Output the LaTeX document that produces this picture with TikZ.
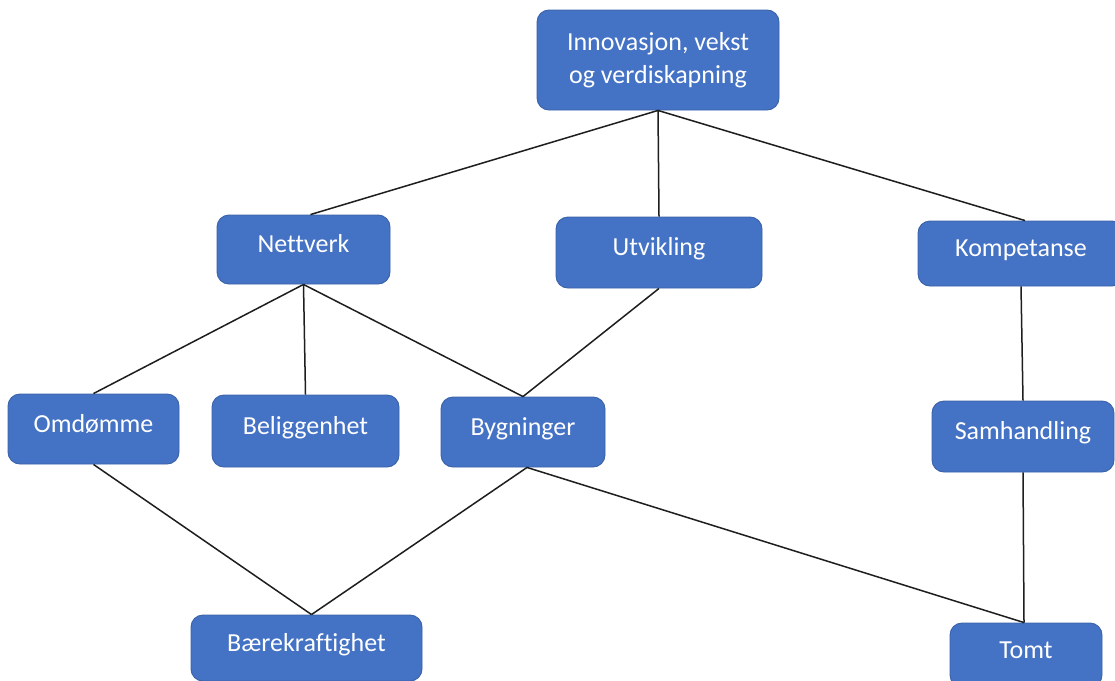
\documentclass[tikz,border=0pt]{standalone}
\usepackage{fontspec}
\setmainfont[Ligatures=NoCommon]{Carlito}
\usepackage{tikz}
\usetikzlibrary{positioning}
\definecolor{BoxBlue}{HTML}{4472C4}
\definecolor{BoxEdge}{HTML}{3A62A8}
\definecolor{TieInk}{HTML}{1E1E1E}
\tikzset{
  topicbox/.style={draw=BoxEdge,fill=BoxBlue,line width=0.9pt,rounded corners=12pt,text=white,font=\fontsize{26}{33}\selectfont,inner sep=4pt},
  topiclabel/.style={topicbox,text height=0.75em,text depth=0.08em},
  tie/.style={line width=1.5pt,TieInk}
}
\begin{document}
\begin{tikzpicture}[x=1pt,y=-1pt]
  \path[use as bounding box,fill=white] (0,0) rectangle (1115,680);
  \clip (0,0) rectangle (1115,680);

  % top level
  \node[topicbox,align=center,minimum width=242pt,minimum height=100pt] (innov) at (658,60) {Innovasjon, vekst\\og verdiskapning};

  % second level
  \node[topiclabel,minimum width=173pt,minimum height=69pt] (nett) at (303.5,249.5) {Nettverk};
  \node[topiclabel,minimum width=206pt,minimum height=71pt] (utv) at (659,252.5) {Utvikling};
  \node[topiclabel,minimum width=206pt,minimum height=65pt] (komp) at (1021,253.5) {Kompetanse};

  % third level
  \node[topiclabel,minimum width=171pt,minimum height=70pt] (omd) at (93.5,429) {Omdømme};
  \node[topiclabel,minimum width=187pt,minimum height=72pt] (bel) at (305.5,431) {Beliggenhet};
  \node[topiclabel,minimum width=164pt,minimum height=70pt] (byg) at (523,432) {Bygninger};
  \node[topiclabel,minimum width=182pt,minimum height=71pt] (samh) at (1023,436.5) {Samhandling};

  % bottom level
  \node[topiclabel,minimum width=231pt,minimum height=66pt] (baer) at (306.5,648) {Bærekraftighet};
  \node[topiclabel,minimum width=152pt,minimum height=64pt] (tomt) at (1026,655) {Tomt};

  % ties
  \draw[tie] (innov.south) -- ([xshift=7pt]nett.north);
  \draw[tie] (innov.south) -- (utv.north);
  \draw[tie] (innov.south) -- ([xshift=4pt]komp.north);
  \draw[tie] (nett.south) -- (omd.north);
  \draw[tie] (nett.south) -- (bel.north);
  \draw[tie] (nett.south) -- (byg.north);
  \draw[tie] (utv.south) -- (byg.north);
  \draw[tie] (komp.south) -- (samh.north);
  \draw[tie] (omd.south) -- ([xshift=5pt]baer.north);
  \draw[tie] ([xshift=4pt]byg.south) -- ([xshift=5pt]baer.north);
  \draw[tie] ([xshift=4pt]byg.south) -- ([xshift=-2pt]tomt.north);
  \draw[tie] (samh.south) -- ([xshift=-2pt]tomt.north);
\end{tikzpicture}
\end{document}
